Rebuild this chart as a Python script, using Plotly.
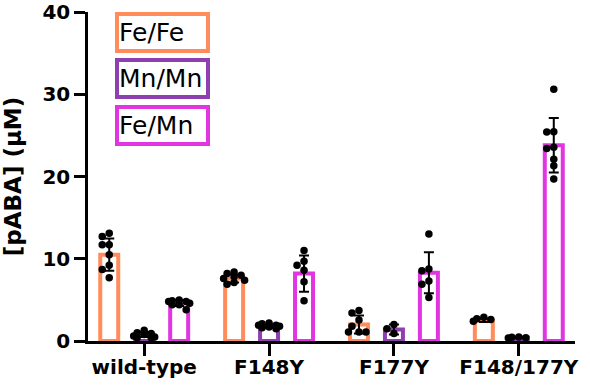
import plotly.graph_objects as go

categories = ["wild-type", "F148Y", "F177Y", "F148/177Y"]
series_names = ["Fe/Fe", "Mn/Mn", "Fe/Mn"]
series_colors = ["#FF8C5A", "#8E3FB0", "#E135E1"]

fefe_points = [
    [12.7, 13.1, 11.7, 11.7, 10.5, 9.2, 8.7, 7.7],
    [8.4, 8.2, 8.0, 7.8, 7.6, 7.4, 7.1, 6.9],
    [3.7, 3.4, 2.55, 1.8, 1.1, 1.1, 1.1],
    [2.9, 2.7, 2.6, 2.4],
]
fefe_mean = [10.5, 7.6, 2.0, 2.5]
fefe_sd = [1.95, 0.5, 1.1, 0.2]

mnmn_points = [
    [1.3, 1.0, 0.9, 0.8, 0.6, 0.5, 0.4, 0.4],
    [2.2, 2.1, 1.9, 1.9, 1.8, 1.7, 1.6, 1.5],
    [2.0, 1.5, 0.9],
    [0.5, 0.45, 0.4, 0.35],
]
mnmn_mean = [0.8, 1.8, 1.4, 0.4]
mnmn_sd = [0.3, 0.2, 0.6, 0.05]

femn_points = [
    [5.0, 4.9, 4.8, 4.8, 4.6, 4.4, 4.4, 3.8],
    [11.0, 9.7, 9.2, 8.6, 7.2, 4.9],
    [13.0, 8.75, 8.55, 7.3, 6.9, 5.3],
    [30.6, 25.45, 25.4, 23.55, 23.4, 22.1, 21.3, 19.7],
]
femn_mean = [4.6, 8.2, 8.3, 23.8]
femn_sd = [0.35, 2.2, 2.5, 3.3]

y_ticks = [0, 10, 20, 30, 40]

all_points = [fefe_points, mnmn_points, femn_points]
all_means = [fefe_mean, mnmn_mean, femn_mean]
all_sds = [fefe_sd, mnmn_sd, femn_sd]

# layout constants
W, H = 590, 389
ML, MR, MT, MB = 88, 15, 12, 48
X_RANGE = [-0.45, 3.45]
Y_RANGE = [0, 40]
px_x = (W - ML - MR) / (X_RANGE[1] - X_RANGE[0])
px_y = (H - MT - MB) / (Y_RANGE[1] - Y_RANGE[0])

SLOT = 0.28          # distance between bar centres within a group
BAR_W = 0.144        # bar width (axis units)


def swarm(values, center, col_px=7.0, diam=6.5):
    placed = []
    xs = [None] * len(values)
    order = sorted(range(len(values)), key=lambda i: -values[i])
    cols = [0, -1, 1, -1.5, 1.5]
    for i in order:
        ypx = values[i] * px_y
        best, best_d = 0.0, -1.0
        for k in cols:
            xpx = k * col_px
            d = min([((xpx - a) ** 2 + (ypx - b) ** 2) ** 0.5 for a, b in placed] or [99])
            if d >= diam:
                best = xpx
                break
            if d > best_d:
                best, best_d = xpx, d
        placed.append((best, ypx))
        xs[i] = center + best / px_x
    return xs


fig = go.Figure()
idx = list(range(len(categories)))

for s, name in enumerate(series_names):
    off = (s - 1) * SLOT
    fig.add_trace(go.Bar(
        x=[i + off for i in idx],
        y=all_means[s],
        width=BAR_W,
        marker=dict(color="white", line=dict(color=series_colors[s], width=4)),
        error_y=dict(type="data", array=all_sds[s], color="black", thickness=2, width=5),
        name=name,
        showlegend=False,
    ))

for s, name in enumerate(series_names):
    off = (s - 1) * SLOT
    xs, ys = [], []
    for i in idx:
        vals = all_points[s][i]
        xs += swarm(vals, i + off)
        ys += vals
    fig.add_trace(go.Scatter(
        x=xs, y=ys, mode="markers",
        marker=dict(color="black", size=7.5, line=dict(width=0)),
        cliponaxis=False, showlegend=False, hoverinfo="skip",
    ))

# legend as bordered boxes
legend_y = [0.938, 0.799, 0.656]
for s, name in enumerate(series_names):
    fig.add_annotation(
        xref="paper", yref="paper", x=0.154, y=legend_y[s],
        xanchor="center", yanchor="middle",
        text=name, showarrow=False, align="left",
        font=dict(family="DejaVu Sans", size=25, color="black"),
        bordercolor=series_colors[s], borderwidth=4, borderpad=0,
        bgcolor="white", width=87, height=33,
    )

fig.update_layout(
    width=W, height=H,
    margin=dict(l=ML, r=MR, t=MT, b=MB, autoexpand=False),
    plot_bgcolor="white", paper_bgcolor="white",
    barmode="overlay",
    xaxis=dict(
        range=X_RANGE, tickvals=idx, ticktext=categories,
        showline=True, linecolor="black", linewidth=2.5,
        ticks="outside", ticklen=12, tickwidth=2.5, tickcolor="black",
        showgrid=False, zeroline=False, automargin=False,
        ticklabelstandoff=-6,
        tickfont=dict(family="DejaVu Sans", size=20, color="black", weight="bold"),
    ),
    yaxis=dict(
        range=Y_RANGE, tickvals=y_ticks,
        showline=True, linecolor="black", linewidth=2.5,
        ticks="outside", ticklen=11, tickwidth=2.5, tickcolor="black",
        showgrid=False, zeroline=False, automargin=False,
        tickfont=dict(family="DejaVu Sans", size=20, color="black", weight="bold"),
        title=dict(text="[pABA] (µM)", standoff=19,
                   font=dict(family="DejaVu Sans", size=23, color="black", weight="bold")),
    ),
)

fig.write_html("out.html", config={"displayModeBar": False},
               post_script="document.body.style.margin='0';")
